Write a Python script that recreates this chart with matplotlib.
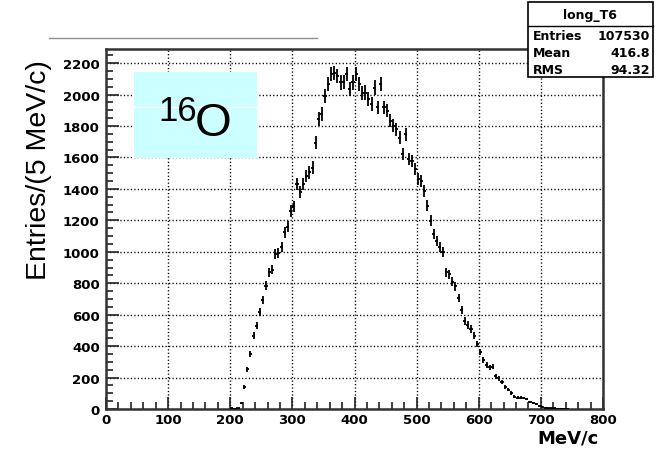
"""
Momentum distribution of 16O (histogram long_T6) redrawn in matplotlib
ROOT-style: error-bar markers, dotted grid, stats box in the corner
"""

import matplotlib
matplotlib.use('Agg')
import matplotlib.pyplot as plt
from matplotlib.patches import Rectangle
from matplotlib.lines import Line2D
from matplotlib.ticker import MultipleLocator
import numpy as np

# --- data (5 MeV/c bins, lower edges) ---
bin_edges_low = list(range(200, 745, 5))
counts = [
    4, 2, 6, 35, 140, 254, 350, 466, 530, 616,
    695, 784, 869, 886, 985, 995, 1028, 1123, 1160, 1260,
    1290, 1430, 1380, 1430, 1483, 1505, 1536, 1695, 1844, 1875,
    1992, 2066, 2130, 2136, 2119, 2077, 2080, 2130, 2034, 2077,
    2130, 2066, 2010, 2013, 1971, 1939, 2045, 1918, 2066, 1918,
    1898, 1834, 1802, 1780, 1727, 1621, 1748, 1589, 1578, 1526,
    1462, 1450, 1385, 1293, 1197, 1112, 1070, 1028, 996, 869,
    858, 810, 780, 705, 630, 561, 535, 509, 466, 413,
    362, 312, 280, 265, 268, 208, 195, 170, 138, 123,
    102, 78, 72, 72, 70, 65, 47, 40, 32, 20,
    14, 8, 6, 5, 4, 3, 2, 2, 1,
]
bin_width = 5

hist_name = "long_T6"
stats_labels = ["Entries", "Mean", "RMS"]
stats_values = ["107530", "416.8", "94.32"]

x_label = "MeV/c"
y_label = "Entries/(5 MeV/c)"

W, H = 662, 460


def fx(px):
    return px / W


def fy(py):
    return 1 - py / H


fig = plt.figure(figsize=(W / 100, H / 100), dpi=100)
ax = fig.add_axes([fx(106), fy(410), fx(603) - fx(106), fy(50) - fy(410)])

centers = np.array(bin_edges_low[:len(counts)]) + bin_width / 2
vals = np.array(counts, dtype=float)
ax.errorbar(centers, vals, xerr=bin_width / 2, yerr=np.sqrt(vals),
            fmt='none', ecolor='black', elinewidth=1.3, capsize=0, zorder=3)

ax.set_xlim(0, 800)
ax.set_ylim(0, 2290)
ax.xaxis.set_major_locator(MultipleLocator(100))
ax.xaxis.set_minor_locator(MultipleLocator(20))
ax.yaxis.set_major_locator(MultipleLocator(200))
ax.yaxis.set_minor_locator(MultipleLocator(50))

ax.grid(True, which='major', color='black', linestyle=(0, (0.9, 1.6)), linewidth=1.0)
ax.tick_params(which='both', direction='in', top=False, right=False, color='#222', width=1.2)
ax.tick_params(which='major', length=9)
ax.tick_params(which='minor', length=5)
ax.tick_params(axis='y', which='major', pad=4.5)
ax.tick_params(axis='x', which='major', pad=3)
for lab in ax.get_xticklabels() + ax.get_yticklabels():
    lab.set_fontfamily('DejaVu Sans')
    lab.set_fontweight('bold')
    lab.set_fontsize(9.5)
for sp in ax.spines.values():
    sp.set_linewidth(1.8)
    sp.set_color('#333333')

# axis titles
fig.text(fx(599), fy(439), x_label, ha='right', va='center',
         fontfamily='DejaVu Sans', fontweight='bold', fontsize=13)
fig.text(fx(39), fy(170), y_label, rotation=90, ha='center', va='center',
         fontfamily='Liberation Sans', fontsize=20.5)

# thin grey line left over at the top
fig.add_artist(Line2D([fx(49), fx(317)], [fy(39), fy(39)], color='#909090', linewidth=1.0))

# cyan label box with 16O
fig.add_artist(Rectangle((fx(134), fy(159)), fx(257) - fx(134), fy(73) - fy(159),
                         transform=fig.transFigure, facecolor='#ccffff', edgecolor='none', zorder=5))
fig.add_artist(Line2D([fx(134), fx(257)], [fy(108), fy(108)], color='white', linewidth=1.0, zorder=6))
fig.text(fx(158), fy(121), "16", ha='left', va='baseline',
         fontfamily='Liberation Sans', fontsize=25, zorder=7)
fig.text(fx(195), fy(136), "O", ha='left', va='baseline',
         fontfamily='Liberation Sans', fontsize=34, zorder=7)

# stats box
fig.add_artist(Rectangle((fx(528), fy(78)), fx(653) - fx(528), fy(3) - fy(78),
                         transform=fig.transFigure, facecolor='white', edgecolor='black',
                         linewidth=1.2, zorder=10))
fig.add_artist(Line2D([fx(528), fx(653)], [fy(27), fy(27)], color='black', linewidth=1.0, zorder=11))
fig.text(fx(590), fy(15), hist_name, ha='center', va='center',
         fontfamily='DejaVu Sans', fontweight='bold', fontsize=9, zorder=12)
for i, (lbl, val) in enumerate(zip(stats_labels, stats_values)):
    yy = 37 + i * 16.5
    fig.text(fx(533), fy(yy), lbl, ha='left', va='center',
             fontfamily='DejaVu Sans', fontweight='bold', fontsize=9, zorder=12)
    fig.text(fx(650), fy(yy), val, ha='right', va='center',
             fontfamily='DejaVu Sans', fontweight='bold', fontsize=9, zorder=12)

fig.savefig('out.png', dpi=100)
plt.close(fig)
